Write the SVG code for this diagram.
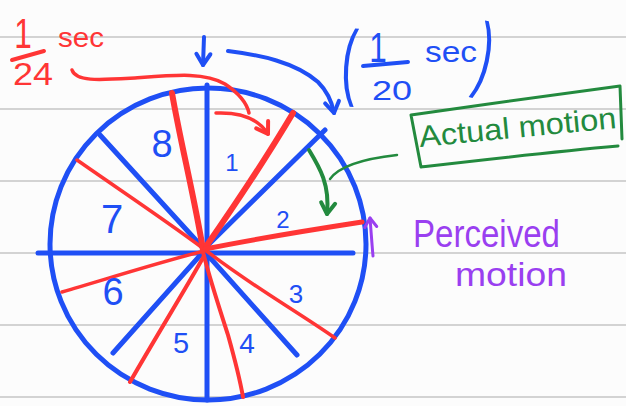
<svg xmlns="http://www.w3.org/2000/svg" width="626" height="406" viewBox="0 0 626 406">
<style>
  .rule{stroke:#d3d3d3;stroke-width:2}
  .blue{stroke:#1f4ff5;fill:none;stroke-linecap:round;stroke-linejoin:round}
  .red{stroke:#ff3535;fill:none;stroke-linecap:round;stroke-linejoin:round}
  .green{stroke:#238a3e;fill:none;stroke-linecap:round;stroke-linejoin:round}
  .purple{stroke:#9a3ff0;fill:none;stroke-linecap:round;stroke-linejoin:round}
  .hand{font-family:"Liberation Sans","DejaVu Sans",sans-serif}
  .tb{fill:#1f4ff5}
  .tr{fill:#ff3535}
  .tg{fill:#238a3e}
  .tp{fill:#9a3ff0}
</style>
<defs>
  <marker id="hBlue" markerUnits="userSpaceOnUse" markerWidth="20" markerHeight="20" refX="12" refY="7" orient="auto" overflow="visible">
    <path d="M1,0 L12,7 L1,14" fill="none" stroke="#1f4ff5" stroke-width="4" stroke-linecap="round" stroke-linejoin="round"/>
  </marker>
  <marker id="hRed" markerUnits="userSpaceOnUse" markerWidth="20" markerHeight="20" refX="12" refY="7" orient="auto" overflow="visible">
    <path d="M1,0 L12,7 L1,14" fill="none" stroke="#ff3535" stroke-width="4" stroke-linecap="round" stroke-linejoin="round"/>
  </marker>
  <marker id="hGreen" markerUnits="userSpaceOnUse" markerWidth="20" markerHeight="20" refX="12" refY="7" orient="auto" overflow="visible">
    <path d="M1,0 L12,7 L1,14" fill="none" stroke="#238a3e" stroke-width="4" stroke-linecap="round" stroke-linejoin="round"/>
  </marker>
  <marker id="hPurple" markerUnits="userSpaceOnUse" markerWidth="20" markerHeight="20" refX="10" refY="6" orient="auto" overflow="visible">
    <path d="M1,0 L10,6 L1,12" fill="none" stroke="#9a3ff0" stroke-width="3" stroke-linecap="round" stroke-linejoin="round"/>
  </marker>
</defs>
<rect width="626" height="406" fill="#fcfcfc"/>
<g id="ruled-paper">
  <line class="rule" x1="0" y1="37" x2="626" y2="37"/>
  <line class="rule" x1="0" y1="109" x2="626" y2="109"/>
  <line class="rule" x1="0" y1="181" x2="626" y2="181"/>
  <line class="rule" x1="0" y1="253" x2="626" y2="253"/>
  <line class="rule" x1="0" y1="325" x2="626" y2="325"/>
  <line class="rule" x1="0" y1="397" x2="626" y2="397"/>
</g>
<g id="wheel">
  <ellipse class="blue" cx="208" cy="244" rx="158" ry="156" stroke-width="5"/>
  <g id="blue-spokes" class="blue" stroke-width="5">
    <line x1="207" y1="85" x2="207" y2="400"/>
    <line x1="38" y1="253" x2="353" y2="253"/>
    <line x1="100" y1="135" x2="204" y2="249"/>
    <line x1="204" y1="249" x2="325" y2="130"/>
    <line x1="204" y1="251" x2="113" y2="353"/>
    <line x1="204" y1="251" x2="297" y2="355"/>
  </g>
  <g id="red-spokes" class="red">
    <path d="M172,93 C180,140 195,200 203,250" stroke-width="6"/>
    <path d="M203,252 C210,280 220,310 228,335 C235,360 240,380 243,397" stroke-width="4"/>
    <path d="M293,113 C265,160 235,205 205,248" stroke-width="6"/>
    <path d="M204,256 C185,290 160,330 130,382" stroke-width="4"/>
    <path d="M77,160 C120,190 165,220 204,249 C250,285 295,310 335,338" stroke-width="3.5"/>
    <path d="M205,249 C260,238 310,230 362,222" stroke-width="5"/>
    <path d="M62,292 C110,278 160,262 204,251" stroke-width="3.5"/>
  </g>
</g>
<g id="sector-labels" class="hand tb">
  <text x="162" y="157" font-size="38" text-anchor="middle">8</text>
  <text x="232" y="171" font-size="24" text-anchor="middle">1</text>
  <text x="112" y="233" font-size="40" text-anchor="middle">7</text>
  <text x="283" y="228" font-size="24" text-anchor="middle">2</text>
  <text x="113" y="305" font-size="38" text-anchor="middle">6</text>
  <text x="296" y="303" font-size="26" text-anchor="middle">3</text>
  <text x="181" y="353" font-size="29" text-anchor="middle">5</text>
  <text x="247" y="353" font-size="28" text-anchor="middle">4</text>
</g>
<g id="label-1-24-sec" class="hand tr">
  <text x="0" y="0" font-size="42" text-anchor="middle" transform="translate(23,48) scale(0.75,1)">1</text>
  <line class="red" x1="12" y1="60" x2="44" y2="51" stroke-width="4"/>
  <text x="13" y="85" font-size="32" textLength="40" lengthAdjust="spacingAndGlyphs">24</text>
  <text x="58" y="47" font-size="28" textLength="46" lengthAdjust="spacingAndGlyphs">sec</text>
</g>
<g id="label-1-20-sec" class="hand tb">
  <text x="0" y="21" font-size="84" text-anchor="middle" transform="translate(349,68) rotate(4) scale(0.55,1)">(</text>
  <text x="0" y="0" font-size="42" text-anchor="middle" transform="translate(378,62) scale(0.75,1)">1</text>
  <line class="blue" x1="363" y1="66" x2="408" y2="62" stroke-width="4"/>
  <text x="372" y="100" font-size="28" textLength="40" lengthAdjust="spacingAndGlyphs">20</text>
  <text x="425" y="62" font-size="30" textLength="52" lengthAdjust="spacingAndGlyphs">sec</text>
  <text x="0" y="22" font-size="84" text-anchor="middle" transform="translate(484,60) rotate(12) scale(0.55,1)">)</text>
</g>
<g id="actual-motion">
  <path class="green" d="M411,115 C480,105 560,94 620,86 L622,139 M618,146 C550,152 490,159 421,167 L411,115" stroke-width="3"/>
  <text class="hand tg" x="420" y="147" font-size="30" textLength="198" lengthAdjust="spacingAndGlyphs" transform="rotate(-5.5 420 147)">Actual motion</text>
</g>
<g id="perceived-motion" class="hand tp">
  <text x="413" y="247" font-size="38" textLength="147" lengthAdjust="spacingAndGlyphs">Perceived</text>
  <text x="455" y="286" font-size="34" textLength="112" lengthAdjust="spacingAndGlyphs">motion</text>
</g>
<g id="connectors">
  <path class="red" d="M72,70 C76,82 100,80 135,78 C175,75 205,72 225,84 C240,94 247,104 249,113" stroke-width="3.5"/>
  <path class="red" d="M216,113 C240,112 258,118 268,134" stroke-width="3.5" marker-end="url(#hRed)"/>
  <path class="blue" d="M204,37 L203,65" stroke-width="4" marker-end="url(#hBlue)"/>
  <path class="blue" d="M228,51 C260,55 295,62 318,82 C328,92 332,102 334,113" stroke-width="4" marker-end="url(#hBlue)"/>
  <path class="green" d="M309,150 C320,168 330,185 327,214" stroke-width="4" marker-end="url(#hGreen)"/>
  <path class="green" d="M397,155 C370,158 340,165 330,179" stroke-width="2.5"/>
  <path class="purple" d="M373,256 C372,245 371,230 370,218" stroke-width="3" marker-end="url(#hPurple)"/>
</g>
</svg>
